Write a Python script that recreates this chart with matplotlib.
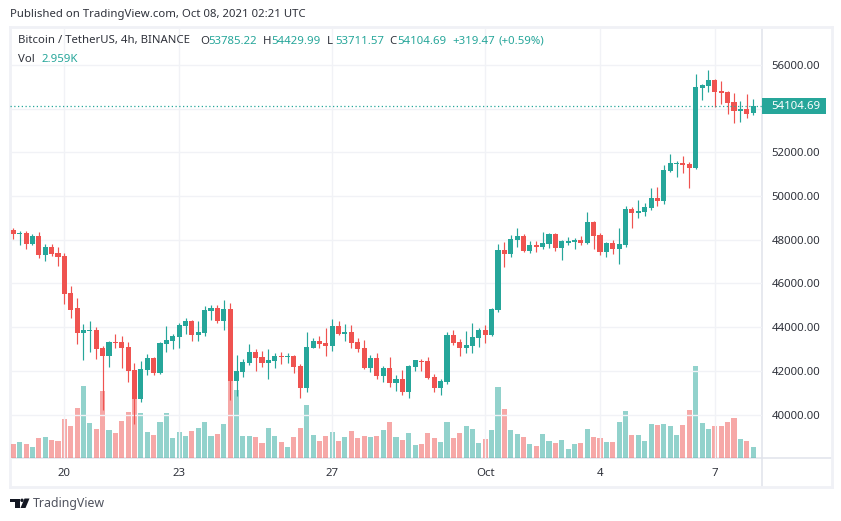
import matplotlib.pyplot as plt
import numpy as np
from matplotlib.patches import Circle, Polygon, Rectangle

plt.rcParams['font.family'] = ['Noto Sans', 'DejaVu Sans']

candles = [
    (48447, 48524, 48035, 48264), (48264, 48402, 47761, 48310), (48310, 48386, 47578, 47806),
    (47806, 48264, 47761, 48173), (48173, 48356, 47166, 47303), (47303, 47806, 47028, 47669),
    (47669, 47806, 47257, 47349), (47395, 47669, 46799, 47211), (47257, 47395, 45060, 45517),
    (45563, 45884, 44419, 44785), (44876, 45334, 43228, 43732), (43732, 44144, 42496, 43869),
    (43824, 44281, 42862, 43869), (43869, 44007, 42542, 43000), (43045, 43137, 40207, 42679),
    (42679, 43366, 42176, 43320), (43320, 43686, 43045, 43274), (43320, 43595, 42130, 43045),
    (43091, 43320, 41489, 41992), (42038, 42359, 39566, 40710), (40710, 42450, 40573, 42084),
    (42038, 42771, 41809, 42587), (42587, 42633, 41809, 41901), (41901, 43320, 41855, 43274),
    (43228, 44053, 42862, 43412), (43366, 43686, 43000, 43595), (43549, 44190, 43045, 44098),
    (44053, 44419, 43686, 44281), (44281, 44327, 43366, 43640), (43640, 44281, 43366, 43778),
    (43732, 44968, 43595, 44785), (44739, 45014, 44327, 44876), (44876, 45014, 44190, 44281),
    (44281, 45243, 43869, 44831), (44831, 45106, 40665, 41535), (41535, 42725, 40848, 41992),
    (41947, 42542, 41718, 42404), (42360, 43230, 42268, 42863), (42863, 43001, 41994, 42589),
    (42634, 42909, 42177, 42360), (42360, 43001, 41627, 42497), (42451, 42818, 42131, 42680),
    (42680, 42863, 42314, 42634), (42634, 42818, 42360, 42680), (42680, 42726, 41902, 42177),
    (42222, 42314, 40758, 41215), (41215, 43779, 41032, 43092), (43047, 43504, 43047, 43367),
    (43367, 43596, 43047, 43230), (43275, 43962, 42680, 43138), (43138, 44374, 42909, 44054),
    (44054, 44283, 43642, 43687), (43687, 44145, 43367, 43779), (43779, 44100, 43047, 43275),
    (43321, 43504, 42863, 43001), (43047, 43413, 42085, 42131), (42131, 42726, 41948, 42589),
    (42589, 42818, 41627, 41765), (41765, 42222, 41490, 42131), (42131, 42634, 41261, 41444),
    (41444, 41811, 41078, 41627), (41627, 42039, 40895, 41032), (41032, 42268, 40758, 42222),
    (42177, 42497, 41994, 42497), (42451, 42543, 41994, 42406), (42451, 42634, 41627, 41673),
    (41719, 41856, 41032, 41215), (41215, 41627, 40895, 41536), (41490, 43779, 41398, 43642),
    (43642, 43871, 43184, 43275), (43321, 43459, 42680, 43047), (43047, 43825, 42818, 43184),
    (43138, 44191, 42818, 43550), (43504, 43962, 43092, 43871), (43871, 44100, 43275, 43642),
    (43642, 44878, 43596, 44832), (44785, 47807, 44694, 47532), (47532, 47898, 46754, 47349),
    (47349, 48219, 47212, 48036), (47990, 48539, 47670, 48173), (48173, 48265, 47441, 47486),
    (47486, 47944, 47395, 47761), (47761, 47944, 47441, 47670), (47670, 48356, 47578, 47853),
    (47807, 48310, 47624, 48265), (48265, 48310, 47486, 47624), (47624, 47990, 47074, 47944),
    (47853, 48127, 47761, 47944), (47898, 48082, 47578, 47990), (47990, 48173, 47761, 47853),
    (47853, 49272, 47807, 48814), (48814, 48860, 47578, 48173), (48219, 48310, 47303, 47441),
    (47441, 47898, 47212, 47853), (47853, 47990, 47349, 47578), (47578, 48539, 46891, 47807),
    (47761, 49547, 47670, 49409), (49409, 49501, 48539, 49226), (49226, 49821, 48997, 49318),
    (49272, 49684, 49089, 49501), (49455, 50370, 49363, 49912), (49912, 50415, 49547, 49775),
    (49775, 51423, 49638, 51194), (51148, 51926, 51102, 51514), (51468, 51606, 50873, 51514),
    (51514, 51835, 51057, 51423), (51468, 51560, 50370, 51285), (51285, 55588, 51239, 54993),
    (54947, 55130, 54398, 55085), (55039, 55771, 54764, 55314), (55314, 55359, 54077, 54764),
    (54810, 55268, 54215, 54718), (54764, 54810, 53757, 54261), (54306, 54718, 53345, 53894),
    (53894, 54352, 53391, 53986), (53986, 54673, 53574, 53757), (53785.22, 54429.99, 53711.57, 54104.69),
]

volume = [
    3.8, 4.3, 3.8, 3.0, 5.4, 5.7, 4.9, 4.6, 10.5, 8.6, 13.5, 19.4, 9.5, 7.8, 18.1, 7.6, 6.8, 10.0, 12.4, 15.9,
    12.2, 7.0, 6.2, 9.7, 12.2, 5.4, 7.0, 5.9, 7.3, 8.1, 9.7, 5.9, 6.5, 9.2, 29.2, 18.4, 5.9, 5.9, 5.7, 4.1,
    8.1, 5.9, 4.3, 3.0, 5.7, 8.1, 14.3, 6.2, 4.6, 5.9, 7.0, 4.6, 5.7, 7.3, 5.4, 5.9, 5.7, 5.9, 7.6, 9.7,
    5.7, 4.9, 6.8, 3.5, 3.8, 6.8, 5.4, 4.3, 9.7, 5.4, 6.8, 8.6, 7.8, 4.1, 5.1, 7.6, 19.2, 13.2, 7.6, 6.5,
    5.7, 3.8, 3.2, 6.5, 4.6, 4.1, 4.9, 2.4, 3.8, 4.1, 7.8, 5.7, 5.4, 4.3, 4.3, 9.7, 12.7, 6.2, 6.2, 4.6,
    9.2, 8.9, 9.2, 8.6, 6.2, 8.9, 13.0, 24.8, 9.5, 7.8, 8.6, 8.6, 9.7, 10.8, 5.1, 4.6, 2.959,
]

up = '#26a69a'
down = '#ef5350'
ink = '#2f323b'
W, H = 841, 521

ohlc = np.array(candles)
x = np.arange(len(ohlc))
colors = [up if c >= o else down for o, c in zip(ohlc[:, 0], ohlc[:, 3])]


def place(left, top, right, bottom):
    return [left / W, 1 - bottom / H, (right - left) / W, (bottom - top) / H]


def label(px, py, text, color=ink, **kwargs):
    fig.text(px / W, 1 - py / H, text, color=color, fontsize=8.2, va='center', **kwargs)


fig = plt.figure(figsize=(W / 100, H / 100), dpi=100)

frame = fig.add_axes(place(9.5, 27, 832, 486.5))
frame.set_xticks([])
frame.set_yticks([])
for spine in frame.spines.values():
    spine.set_color('#f0f1f6')
    spine.set_linewidth(2)
frame.axvline((761.7 - 9.5) / (832 - 9.5), color='#e0e3eb', lw=1.1)
frame.axhline((486.5 - 458.3) / (486.5 - 27), color='#e0e3eb', lw=1.1)

ax = fig.add_axes(place(10, 28, 761.7, 458.3))
ax.set_zorder(2)
ax.patch.set_visible(False)
for spine in ax.spines.values():
    spine.set_visible(False)

vol_ax = ax.twinx()
vol_ax.set_zorder(1)
vol_ax.bar(x, volume, 0.8, color=colors, alpha=0.5, linewidth=0)
vol_ax.set_ylim(0, 430.3 * 0.27)
vol_ax.set_yticks([])
for spine in vol_ax.spines.values():
    spine.set_visible(False)

ax.vlines(x, ohlc[:, 2], ohlc[:, 1], colors=colors, linewidth=0.85)
ax.bar(x, np.abs(ohlc[:, 3] - ohlc[:, 0]), 0.8, bottom=np.minimum(ohlc[:, 0], ohlc[:, 3]), color=colors, linewidth=0)
ax.axhline(ohlc[-1, 3], color=up, linewidth=0.9, linestyle=(0, (1, 2)))

ax.set_xlim(-0.52, 117.35)
ax.set_ylim(38000, 57690)
ax.set_xticks([8, 26, 50, 74, 92, 110])
ax.set_xticklabels(['20', '23', '27', 'Oct', '4', '7'])
ticks = np.arange(40000, 58000, 2000)
ax.set_yticks(ticks)
ax.set_yticklabels(['' if t == 54000 else f'{t:.2f}' for t in ticks])
ax.yaxis.tick_right()
ax.tick_params(length=0, labelsize=8.2, labelcolor=ink)
ax.tick_params(axis='y', pad=7.2)
ax.tick_params(axis='x', pad=7)
ax.grid(color='#f1f2f6', linewidth=1)
ax.set_axisbelow(True)

ax.add_patch(Rectangle((1, ohlc[-1, 3] - 365), 64 / 751.7, 730, transform=ax.get_yaxis_transform(),
                       facecolor=up, edgecolor='none', clip_on=False))
ax.annotate(f'{ohlc[-1, 3]:.2f}', xy=(1, ohlc[-1, 3]), xycoords=('axes fraction', 'data'),
            xytext=(7.2, 0), textcoords='offset points', ha='left', va='center',
            color='white', fontsize=8.2, fontweight='bold', annotation_clip=False)

label(10, 15, 'Published on TradingView.com, Oct 08, 2021 02:21 UTC')
label(18, 41, 'Bitcoin / TetherUS, 4h, BINANCE')
for px, key, value in [(200, 'O', '53785.22'), (263, 'H', '54429.99'), (327, 'L', '53711.57'), (389, 'C', '54104.69')]:
    label(px, 41, key)
    label(px + 8, 41, value, color=up)
label(452, 41, '+319.47', color=up)
label(498, 41, '(+0.59%)', color=up)
label(18, 59, 'Vol')
label(41, 59, '2.959K', color=up)

logo = '#131722'
fig.add_artist(Polygon([(10 / W, 1 - 498.5 / H), (19.5 / W, 1 - 498.5 / H), (19.5 / W, 1 - 508 / H), (14.5 / W, 1 - 508 / H),
                        (14.5 / W, 1 - 502 / H), (10 / W, 1 - 502 / H)], closed=True, color=logo, lw=0))
fig.add_artist(Circle((22 / 100, (H - 500.3) / 100), 0.017, transform=fig.dpi_scale_trans, color=logo, lw=0))
fig.add_artist(Polygon([(24.5 / W, 1 - 498.5 / H), (29.5 / W, 1 - 498.5 / H), (25.5 / W, 1 - 508 / H), (20.5 / W, 1 - 508 / H)],
                       closed=True, color=logo, lw=0))
fig.text(33 / W, 1 - 503 / H, 'TradingView', color='#50535e', fontsize=8.9, va='center')

fig.savefig('out.png', dpi=100)
